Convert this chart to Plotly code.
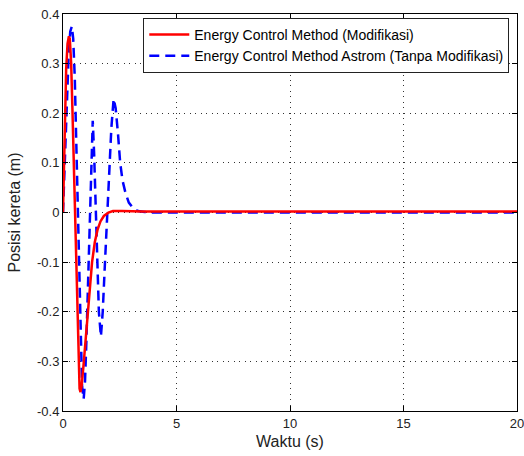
import plotly.graph_objects as go

# Energy Control Method (Modifikasi)
t_red = [0, 0.04, 0.08, 0.14, 0.2, 0.26, 0.3, 0.36, 0.42, 0.48, 0.53, 0.58, 0.63, 0.68,
         0.73, 0.77, 0.82, 0.9, 1.0, 1.09, 1.18, 1.28, 1.4, 1.52, 1.65, 1.8, 2.0, 2.2,
         2.6, 3.5, 6, 10, 20]
y_red = [0, 0.1, 0.2, 0.29, 0.34, 0.355, 0.35, 0.3, 0.2, 0.09, 0.0, -0.1, -0.22, -0.31,
         -0.355, -0.362, -0.35, -0.31, -0.25, -0.2, -0.15, -0.1, -0.06, -0.035, -0.018,
         -0.007, 0.0, 0.003, 0.003, 0.002, 0.002, 0.002, 0.002]

# Energy Control Method Astrom (Tanpa Modifikasi)
t_blue = [0, 0.05, 0.1, 0.17, 0.25, 0.32, 0.39, 0.45, 0.52, 0.58, 0.65, 0.72, 0.78, 0.84,
          0.91, 0.97, 1.03, 1.09, 1.15, 1.2, 1.25, 1.31, 1.37, 1.43, 1.5, 1.58, 1.67,
          1.75, 1.83, 1.9, 1.97, 2.05, 2.13, 2.23, 2.32, 2.42, 2.52, 2.62, 2.75, 2.9,
          3.1, 3.3, 3.6, 4.0, 20]
y_blue = [0, 0.06, 0.13, 0.23, 0.32, 0.365, 0.375, 0.35, 0.27, 0.15, 0.0, -0.15, -0.27,
          -0.35, -0.376, -0.34, -0.26, -0.16, -0.06, 0.03, 0.1, 0.185, 0.12, 0.02, -0.1,
          -0.2, -0.25, -0.2, -0.12, -0.05, 0.02, 0.1, 0.17, 0.229, 0.21, 0.16, 0.1,
          0.065, 0.04, 0.02, 0.008, 0.003, 0.001, 0.0, 0.0]

x_ticks = [0, 5, 10, 15, 20]
y_ticks = [-0.4, -0.3, -0.2, -0.1, 0, 0.1, 0.2, 0.3, 0.4]
y_tick_text = ["-0.4", "-0.3", "-0.2", "-0.1", "0", "0.1", "0.2", "0.3", "0.4"]

fig = go.Figure()
fig.add_trace(go.Scatter(
    x=t_blue, y=y_blue, mode="lines", legendrank=2,
    name="Energy Control Method Astrom (Tanpa Modifikasi)",
    line=dict(color="#0000ff", width=2.5, dash="10px,6px")))
fig.add_trace(go.Scatter(
    x=t_red, y=y_red, mode="lines", legendrank=1,
    name="Energy Control Method (Modifikasi)",
    line=dict(color="#ff0000", width=2.5)))

axis_common = dict(
    showline=True, linecolor="black", linewidth=1, mirror="ticks",
    ticks="inside", ticklen=5, tickcolor="black",
    showgrid=True, gridcolor="#333", griddash="1px,4.5px", gridwidth=1,
    zeroline=False, ticklabeloverflow="allow", automargin=False,
    tickfont=dict(family="Liberation Sans, Arial", size=13, color="#222"),
)

fig.update_layout(
    width=524, height=456, autosize=False,
    margin=dict(l=63, r=7, t=14, b=45),
    paper_bgcolor="white", plot_bgcolor="white",
    font=dict(family="Liberation Sans, Arial", size=13, color="#222"),
    xaxis=dict(range=[0, 20], tickvals=x_ticks,
               title=dict(text="Waktu (s)", standoff=6), **axis_common),
    yaxis=dict(range=[-0.4, 0.4], tickvals=y_ticks, ticktext=y_tick_text,
               title=dict(text="Posisi kereta (m)", standoff=12), **axis_common),
    legend=dict(x=0.983, y=0.99, xanchor="right", yanchor="top",
                bgcolor="white", bordercolor="#222", borderwidth=1,
                font=dict(family="Liberation Sans, Arial", size=14, color="black"),
                tracegroupgap=0, itemwidth=40),
    showlegend=True,
)

fig.write_html("out.html")
